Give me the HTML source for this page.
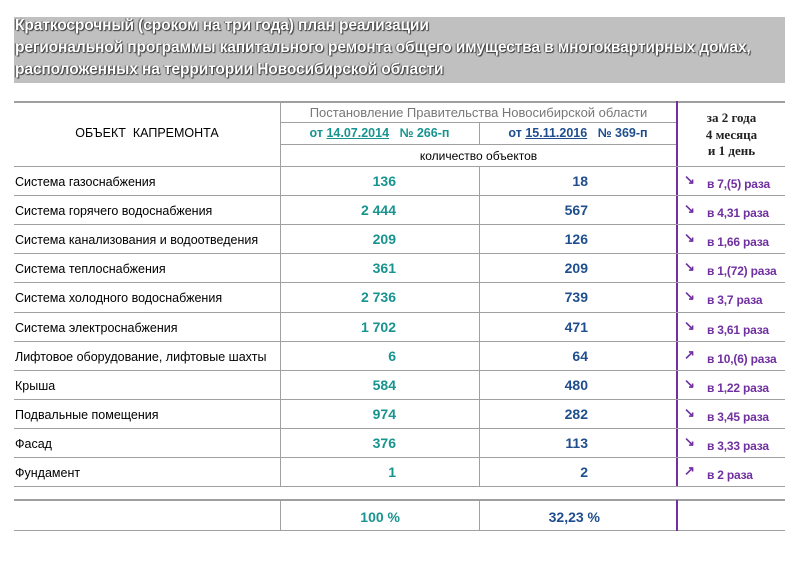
<!DOCTYPE html>
<html><head><meta charset="utf-8"><style>
body{margin:0;width:800px;height:565px;background:#fff;position:relative;overflow:hidden;font-family:"Liberation Sans",Arial,sans-serif}
.a{position:absolute;white-space:nowrap}
.h{position:absolute;height:1px;background:#a0a0a0}
.v{position:absolute;width:1px;background:#a0a0a0}
.ban{position:absolute;left:14px;top:17px;width:771px;height:66px;background:#c0c0c0}
.t{position:absolute;left:15px;color:#fff;font-size:15.5px;font-weight:bold;text-shadow:1px 1px 1px #333,-1px 0 1px #555;letter-spacing:-0.1px}
.n{font-size:12.5px;color:#000;left:15px}
.c2{color:#17948f;font-weight:bold;font-size:14px;text-align:right;width:100px;left:296px}
.c3{color:#1f4e8e;font-weight:bold;font-size:14px;text-align:right;width:100px;left:488px}
.r{color:#7030a0;font-weight:bold;font-size:12px;left:707px;letter-spacing:-0.2px}
.ar{color:#7030a0;font-size:13px;font-weight:bold;left:684px}
</style></head><body>
<div class="ban"></div>
<div class="t" style="top:17px">Краткосрочный (сроком на три года) план реализации</div>
<div class="t" style="top:39px">региональной программы капитального ремонта общего имущества в многоквартирных домах,</div>
<div class="t" style="top:61px">расположенных на территории Новосибирской области</div>

<div class="h" style="left:14px;width:771px;top:101px;height:2px"></div>
<div class="h" style="left:280px;width:397px;top:122px"></div>
<div class="h" style="left:280px;width:397px;top:144px"></div>
<div class="v" style="left:280px;top:101px;height:385px"></div>
<div class="v" style="left:479px;top:122px;height:22px"></div>
<div class="v" style="left:479px;top:166px;height:320px"></div>
<div class="a" style="left:676px;top:101px;width:2px;height:385px;background:#7030a0"></div>

<div class="a" style="left:14px;width:266px;text-align:center;top:126px;font-size:12.5px">ОБЪЕКТ&nbsp; КАПРЕМОНТА</div>
<div class="a" style="left:280px;width:397px;text-align:center;top:105px;font-size:13px;color:#777">Постановление Правительства Новосибирской области</div>
<div class="a" style="left:280px;width:199px;text-align:center;top:126px;font-size:12.5px;color:#17948f;font-weight:bold">от <u>14.07.2014</u>&nbsp;&nbsp; № 266-п</div>
<div class="a" style="left:479px;width:198px;text-align:center;top:126px;font-size:12.5px;color:#1f4e8e;font-weight:bold">от <u>15.11.2016</u>&nbsp;&nbsp; № 369-п</div>
<div class="a" style="left:280px;width:397px;text-align:center;top:149px;font-size:12px">количество объектов</div>
<div class="a" style="left:678px;width:107px;text-align:center;top:110px;font-family:'Liberation Serif',serif;font-weight:bold;font-size:13px;line-height:16.5px;color:#222;white-space:normal">за 2 года<br>4 месяца<br>и 1 день</div>

<div id="rows"></div>

<div class="h" style="left:14px;width:771px;top:499px;height:2px"></div>
<div class="h" style="left:14px;width:771px;top:530px"></div>
<div class="v" style="left:280px;top:500px;height:31px"></div>
<div class="v" style="left:479px;top:500px;height:31px"></div>
<div class="a" style="left:676px;top:500px;width:2px;height:31px;background:#7030a0"></div>
<div class="a" style="left:300px;width:100px;text-align:right;top:509px;color:#17948f;font-weight:bold;font-size:14px">100 %</div>
<div class="a" style="left:500px;width:100px;text-align:right;top:509px;color:#1f4e8e;font-weight:bold;font-size:14px">32,23 %</div>

<script>
var d=[["Система газоснабжения","136","18","↘","в 7,(5) раза"],
["Система горячего водоснабжения","2 444","567","↘","в 4,31 раза"],
["Система канализования и водоотведения","209","126","↘","в 1,66 раза"],
["Система теплоснабжения","361","209","↘","в 1,(72) раза"],
["Система холодного водоснабжения","2 736","739","↘","в 3,7 раза"],
["Система электроснабжения","1 702","471","↘","в 3,61 раза"],
["Лифтовое оборудование, лифтовые шахты","6","64","↗","в 10,(6) раза"],
["Крыша","584","480","↘","в 1,22 раза"],
["Подвальные помещения","974","282","↘","в 3,45 раза"],
["Фасад","376","113","↘","в 3,33 раза"],
["Фундамент","1","2","↗","в 2 раза"]];
var h='';
for(var i=0;i<d.length;i++){var y=166+i*29.1;
h+='<div class="h" style="left:14px;width:771px;top:'+y+'px"></div>';
h+='<div class="a n" style="top:'+(y+9)+'px">'+d[i][0]+'</div>';
h+='<div class="a c2" style="top:'+(y+7)+'px">'+d[i][1]+'</div>';
h+='<div class="a c3" style="top:'+(y+7)+'px">'+d[i][2]+'</div>';
h+='<div class="a ar" style="top:'+(y+6)+'px">'+d[i][3]+'</div>';
h+='<div class="a r" style="top:'+(y+11)+'px">'+d[i][4]+'</div>';}
h+='<div class="h" style="left:14px;width:771px;top:486px"></div>';
document.getElementById('rows').innerHTML=h;
</script>
</body></html>
